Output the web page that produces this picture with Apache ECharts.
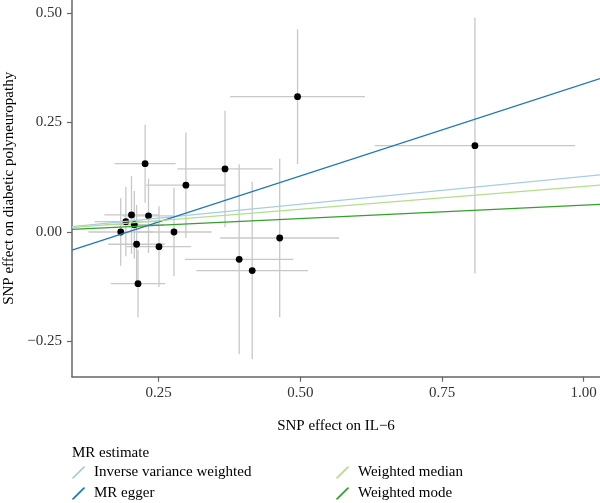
<!DOCTYPE html>
<html>
<head>
<meta charset="utf-8">
<script src="https://cdn.jsdelivr.net/npm/echarts@6/dist/echarts.min.js"></script>
<style>
html,body{margin:0;padding:0;background:#fff;}
#chart{width:600px;height:503px;}
</style>
</head>
<body>
<div id="chart"></div>
<script>
// ---- data ----
const exposureBeta = [0.226, 0.298, 0.202, 0.232, 0.192, 0.207, 0.183, 0.277, 0.211, 0.2505, 0.2135, 0.4635, 0.392, 0.415, 0.367, 0.495, 0.808];
const exposureSe   = [0.054, 0.070, 0.048, 0.045, 0.055, 0.052, 0.057, 0.066, 0.050, 0.057, 0.048, 0.105, 0.0955, 0.0985, 0.084, 0.119, 0.177];
const outcomeBeta  = [0.156, 0.107, 0.039, 0.037, 0.0235, 0.0167, 0.000, 0.000, -0.028, -0.0335, -0.118, -0.0137, -0.0624, -0.088, 0.144, 0.309, 0.197];
const outcomeSe    = [0.089, 0.120, 0.089, 0.085, 0.079, 0.077, 0.077, 0.101, 0.090, 0.092, 0.077, 0.181, 0.217, 0.2025, 0.133, 0.154, 0.292];

const methods    = ['Inverse variance weighted', 'MR egger', 'Weighted median', 'Weighted mode'];
const slopes     = [0.127, 0.42, 0.104, 0.0615];
const intercepts = [0, -0.082, 0, 0];
const methodColors = ['#A6CEE3', '#1F78B4', '#B2DF8A', '#33A02C'];

const xTicks = [0.25, 0.50, 0.75, 1.00];
const yTicks = [-0.25, 0.00, 0.25, 0.50];
const xRange = [0.097, 1.0287];
const yRange = [-0.3304, 0.5297];

// ---- build ----
const FONT = 'Liberation Serif';
const chart = echarts.init(document.getElementById('chart'), null, {renderer: 'canvas'});

const pts = exposureBeta.map((x, i) => [x, outcomeBeta[i], exposureSe[i], outcomeSe[i]]);

const legendIcon = 'path://M0,12 L1.7,12 L13,0.7 L13,0 L11.3,0 L0,11.3 Z M17,0 L17,0.01 L16.99,0 Z';

const lineSeries = methods.map((m, k) => ({
  name: m,
  type: 'line',
  showSymbol: false,
  symbol: 'none',
  silent: true,
  clip: true,
  z: 5,
  color: methodColors[k],
  lineStyle: {color: methodColors[k], width: 1.3},
  itemStyle: {color: methodColors[k]},
  emphasis: {disabled: true},
  data: xRange.map(x => [x, intercepts[k] + slopes[k] * x])
}));

const fmtX = v => v.toFixed(2);
const fmtY = v => (v < 0 ? '\u2212' + Math.abs(v).toFixed(2) : v.toFixed(2));

const legendBase = {
  orient: 'vertical',
  top: 465,
  height: 38,
  padding: 0,
  itemWidth: 17, itemHeight: 12, itemGap: 6,
  icon: legendIcon,
  selectedMode: false,
  textStyle: {fontFamily: FONT, fontSize: 15, color: '#000', lineHeight: 14}
};

const option = {
  animation: false,
  backgroundColor: '#fff',
  textStyle: {fontFamily: FONT},
  grid: {left: 72, right: 0, top: 0, bottom: 126.3, containLabel: false, outerBoundsMode: 'none'},
  title: {
    text: 'MR estimate',
    left: 72, top: 446, padding: 0,
    textStyle: {fontFamily: FONT, fontSize: 15, fontWeight: 'normal', color: '#000'}
  },
  legend: [
    Object.assign({}, legendBase, {data: methods.slice(0, 2), left: 72}),
    Object.assign({}, legendBase, {data: methods.slice(2, 4), left: 336})
  ],
  xAxis: {
    type: 'value',
    min: xRange[0], max: xRange[1],
    name: 'SNP effect on IL\u22126',
    nameLocation: 'middle',
    nameGap: 42,
    nameTextStyle: {fontFamily: FONT, fontSize: 15, color: '#000'},
    splitLine: {show: false},
    axisLine: {show: true, onZero: false, lineStyle: {color: '#666', width: 1.5}},
    axisTick: {show: true, length: 5, customValues: xTicks, lineStyle: {color: '#666', width: 1.2}},
    axisLabel: {customValues: xTicks, formatter: fmtX, margin: 9, fontFamily: FONT, fontSize: 15, color: '#333'}
  },
  yAxis: {
    type: 'value',
    min: yRange[0], max: yRange[1],
    name: 'SNP effect on diabetic polyneuropathy',
    nameLocation: 'middle',
    nameGap: 48,
    nameRotate: 90,
    nameTextStyle: {fontFamily: FONT, fontSize: 15, color: '#000'},
    splitLine: {show: false},
    axisLine: {show: true, onZero: false, lineStyle: {color: '#666', width: 1.5}},
    axisTick: {show: true, length: 5, customValues: yTicks, lineStyle: {color: '#666', width: 1.2}},
    axisLabel: {customValues: yTicks, formatter: fmtY, margin: 10, fontFamily: FONT, fontSize: 15, color: '#333'}
  },
  series: [
    {
      type: 'custom',
      silent: true,
      z: 2,
      data: pts,
      renderItem: function (params, api) {
        const x = api.value(0), y = api.value(1), sx = api.value(2), sy = api.value(3);
        const h0 = api.coord([x - sx, y]), h1 = api.coord([x + sx, y]);
        const v0 = api.coord([x, y - sy]), v1 = api.coord([x, y + sy]);
        const style = {stroke: '#c8c8c8', lineWidth: 1.3, fill: null};
        return {
          type: 'group',
          children: [
            {type: 'line', shape: {x1: v0[0], y1: v0[1], x2: v1[0], y2: v1[1]}, style: style},
            {type: 'line', shape: {x1: h0[0], y1: h0[1], x2: h1[0], y2: h1[1]}, style: style}
          ]
        };
      }
    },
    {
      type: 'scatter',
      silent: true,
      z: 3,
      symbolSize: 6.8,
      itemStyle: {color: '#000', opacity: 1},
      data: pts.map(p => [p[0], p[1]])
    }
  ].concat(lineSeries)
};
chart.setOption(option);
</script>
</body>
</html>
